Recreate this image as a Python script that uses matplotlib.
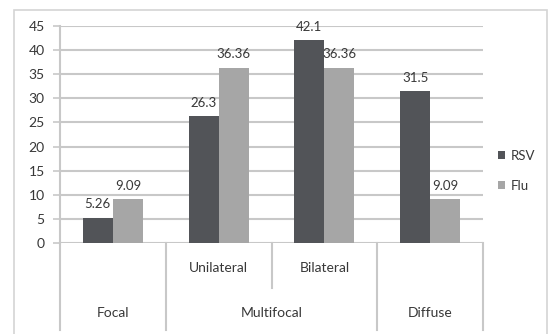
import matplotlib
matplotlib.use("Agg")
import matplotlib.pyplot as plt
from matplotlib.patches import Rectangle

# pattern of pneumonia by virus (%)
groups = ["", "Unilateral", "Bilateral", ""]
parents = ["Focal", "Multifocal", "Diffuse"]
parent_span = [(0, 1), (1, 3), (3, 4)]
rsv = [5.26, 26.3, 42.1, 31.5]
flu = [9.09, 36.36, 36.36, 9.09]
rsv_labels = ["5.26", "26.3", "42.1", "31.5"]
flu_labels = ["9.09", "36.36", "36.36", "9.09"]
yticks = list(range(0, 50, 5))

plt.rcParams['font.family'] = ['Lato', 'DejaVu Sans']
txt = '#383838'
grid = '#c8c8c8'

fig = plt.figure(figsize=(5.56, 3.34), dpi=100)
fig.patch.set_facecolor('white')

# outer chart frame
fig.patches.append(Rectangle((14/556, -0.05), 533/556, 1.05 - 10/334,
                             transform=fig.transFigure, fill=False,
                             edgecolor='#d4d4d4', lw=1.2))

ax = fig.add_axes([60/556, 91/334, 423/556, 217/334])
ax.set_xlim(0, 4)
ax.set_ylim(0, 45)

w = 0.284
for i in range(4):
    c = i + 0.5
    ax.bar(c - w/2, rsv[i], w, color='#525458', zorder=3, label='RSV' if i == 0 else None)
    ax.bar(c + w/2, flu[i], w, color='#a6a6a6', zorder=3, label='Flu' if i == 0 else None)
    ax.text(c - w/2, rsv[i] + 1.5, rsv_labels[i], ha='center', va='bottom', fontsize=9.5, color=txt)
    ax.text(c + w/2, flu[i] + 1.5, flu_labels[i], ha='center', va='bottom', fontsize=9.5, color=txt)

ax.set_yticks(yticks)
ax.set_yticklabels([str(t) for t in yticks], fontsize=10, color=txt)
ax.set_xticks([])
ax.yaxis.grid(True, color=grid, lw=1.5, zorder=0)
ax.tick_params(axis='y', length=5, color=grid, width=1.2, pad=6)
for s in ['top', 'right', 'bottom']:
    ax.spines[s].set_visible(False)
ax.spines['left'].set_color(grid)
ax.spines['left'].set_linewidth(1.5)

# two-level category axis below the plot
tr = ax.get_xaxis_transform()
for x in [0, 1, 3, 4]:
    ax.plot([x, x], [0, -0.40], color=grid, lw=1.5, transform=tr, clip_on=False)
ax.plot([2, 2], [0, -0.207], color=grid, lw=1.5, transform=tr, clip_on=False)
for i, g in enumerate(groups):
    if g:
        ax.text(i + 0.5, -0.115, g, transform=tr, ha='center', va='center', fontsize=10, color=txt)
for name, (a, b) in zip(parents, parent_span):
    ax.text((a + b) / 2, -0.323, name, transform=tr, ha='center', va='center', fontsize=10, color=txt)

fig.legend(loc='center left', bbox_to_anchor=(486/556, 1 - 171/334), frameon=False,
           fontsize=9.5, handlelength=0.55, handleheight=0.55, handletextpad=0.4,
           labelspacing=1.35, labelcolor=txt)

fig.savefig('out.png', dpi=100)
